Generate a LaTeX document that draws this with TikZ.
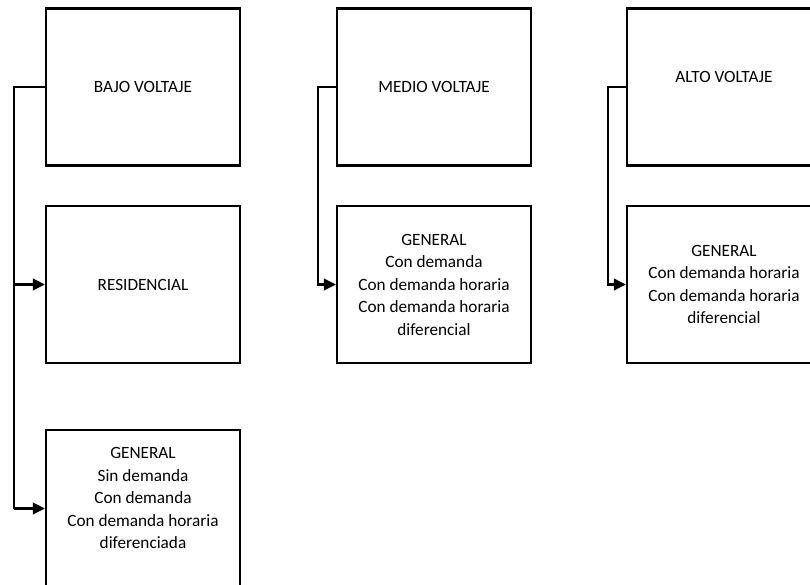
\documentclass[tikz,border=0pt]{standalone}
\usepackage{fontspec}
\setmainfont{Carlito}
\usetikzlibrary{arrows.meta}

\tikzset{
  caja/.style={draw, line width=1.3pt, minimum width=3.88cm, minimum height=3.14cm,
    align=center, font=\fontsize{9.8}{12.8}\selectfont, inner sep=0pt},
  texto/.style={align=center, font=\fontsize{9.8}{12.8}\selectfont, inner sep=0pt},
  flecha/.style={line width=1.3pt, -{Triangle[length=2.4mm,width=2.3mm]}},
  linea/.style={line width=1.3pt}
}

\begin{document}
\begin{tikzpicture}[x=0.02cm,y=-0.02cm]
  \useasboundingbox (0,0) rectangle (810,584);
  \clip (0,0) rectangle (810,584);

  % bajo voltaje
  \node[caja] (bajo) at (143,87) {BAJO VOLTAJE};
  \node[caja] (resid) at (143,284.5) {RESIDENCIAL};
  \node[caja] (gen1) at (143,508.5) {};
  \node[texto] (gen1txt) at (143,498) {GENERAL\\Sin demanda\\Con demanda\\Con demanda horaria\\diferenciada};

  % medio voltaje
  \node[caja] (medio) at (434,87) {MEDIO VOLTAJE};
  \node[caja] (gen2) at (434,284.5) {GENERAL\\Con demanda\\Con demanda horaria\\Con demanda horaria\\diferencial};

  % alto voltaje
  \node[caja] (alto) at (724,87) {};
  \node[texto] (altotxt) at (724,77) {ALTO VOLTAJE};
  \node[caja] (gen3) at (724,284.5) {GENERAL\\Con demanda horaria\\Con demanda horaria\\diferencial};

  % conectores
  \coordinate (b1) at (14,87);
  \coordinate (m1) at (318,87);
  \coordinate (a1) at (608,87);
  \draw[linea] (bajo.west) -- (b1) -- (b1 |- gen1.west);
  \draw[flecha] (b1 |- resid.west) -- (resid.west);
  \draw[flecha] (b1 |- gen1.west) -- (gen1.west);
  \draw[flecha] (medio.west) -- (m1) |- (gen2.west);
  \draw[flecha] (alto.west) -- (a1) |- (gen3.west);
\end{tikzpicture}
\end{document}
